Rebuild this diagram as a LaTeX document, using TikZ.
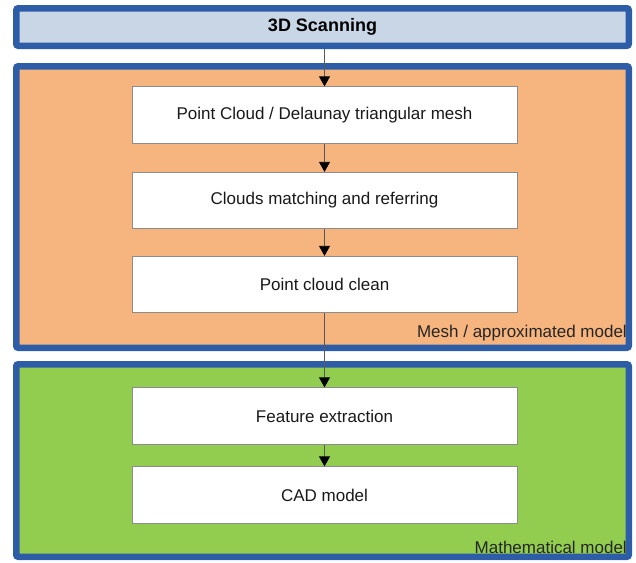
\documentclass[tikz,border=0pt]{standalone}
\usepackage{fontspec}
\setmainfont{Liberation Sans}
\usetikzlibrary{arrows.meta}
\definecolor{frameblue}{HTML}{2E5DA8}
\definecolor{scanfill}{HTML}{C8D6E5}
\definecolor{meshfill}{HTML}{F6B47E}
\definecolor{mathfill}{HTML}{92CD50}
\tikzset{
  stage/.style={draw=frameblue, line width=6.5pt, rounded corners=2pt,
    minimum width=612.5pt, inner sep=0pt},
  stepbox/.style={draw=black!45, line width=0.8pt, fill=white,
    minimum width=385pt, minimum height=56.5pt, inner sep=0pt,
    text=black!90, font=\fontsize{17}{20}\selectfont},
  flow/.style={draw=black!65, line width=0.8pt,
    -{Triangle[length=10pt,width=11pt,color=black,fill=black]}},
  cornerlabel/.style={anchor=base east, inner sep=0pt, text=black!85,
    font=\fontsize{17}{20}\selectfont}
}
\begin{document}
\begin{tikzpicture}[x=1pt,y=-1pt]
  \useasboundingbox (0,0) rectangle (636,562);
  % stages
  \node[stage, fill=scanfill, minimum height=37.5pt,
    font=\fontsize{18}{21}\selectfont\bfseries] (scan) at (322.5,27) {3D Scanning};
  \node[stage, fill=meshfill, minimum height=281.5pt] (mesh) at (322.5,207) {};
  \node[stage, fill=mathfill, minimum height=192.5pt] (math) at (322.5,460.5) {};
  % steps
  \foreach \n/\y/\t in {cloud/115/{Point Cloud / Delaunay triangular mesh},
            match/200.5/{Clouds matching and referring},
            clean/284.5/{Point cloud clean},
            feat/416/{Feature extraction},
            cad/495/{CAD model}}
    \node[stepbox] (\n) at (324.5,\y) {\t};
  \node[cornerlabel] (meshlbl) at (627,337.5) {Mesh / approximated model};
  \node[cornerlabel] (mathlbl) at (627,553) {Mathematical model};
  % arrows
  \draw[flow] (cloud.north |- scan.south) -- (cloud.north);
  \foreach \a/\b in {cloud/match,match/clean,clean/feat,feat/cad}
    \draw[flow] (\a.south) -- (\b.north);
\end{tikzpicture}
\end{document}
